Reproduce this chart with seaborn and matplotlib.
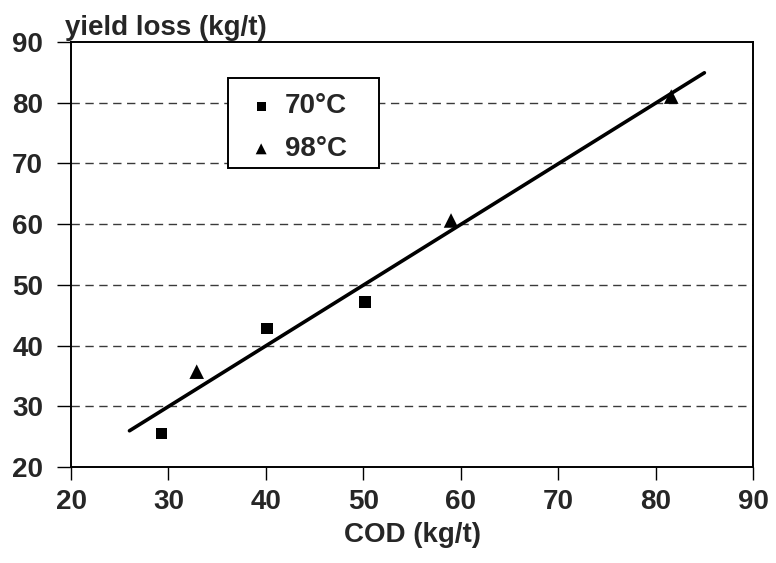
import matplotlib
matplotlib.use("Agg")
import matplotlib.pyplot as plt
from matplotlib.patches import Rectangle
import seaborn as sns
import numpy as np
import pandas as pd

# values
cod_70 = [29.3, 40.1, 50.2]
loss_70 = [25.5, 42.8, 47.2]
cod_98 = [32.9, 59.0, 81.6]
loss_98 = [35.7, 60.6, 81.0]
fit_range = [26, 85]
ticks = [20, 30, 40, 50, 60, 70, 80, 90]

df70 = pd.DataFrame({'cod': cod_70, 'loss': loss_70})
df98 = pd.DataFrame({'cod': cod_98, 'loss': loss_98})
both = pd.concat([df70, df98])

# linear trend through all points
slope, icpt = np.polyfit(both['cod'], both['loss'], 1)
fit = pd.DataFrame({'cod': fit_range})
fit['loss'] = slope * fit['cod'] + icpt

sns.set_theme(style='white')
plt.rcParams['font.family'] = ['Liberation Sans', 'DejaVu Sans']
plt.rcParams['font.weight'] = 'bold'

FS = 20

fig = plt.figure(figsize=(7.76, 5.63), dpi=100)
ax = fig.add_axes([0.0915, 0.1705, 0.879, 0.755])

for v in ticks[1:-1]:
    ax.axhline(v, color='#3a3a3a', lw=1.0, ls=(0, (6, 4)), zorder=0)

sns.lineplot(data=fit, x='cod', y='loss', color='black', lw=2.6, ax=ax, zorder=2)
sns.scatterplot(data=df70, x='cod', y='loss', marker='s', color='black', s=70,
                edgecolor='none', label='70°C', ax=ax, zorder=3)
sns.scatterplot(data=df98, x='cod', y='loss', marker='^', color='black', s=110,
                edgecolor='none', label='98°C', ax=ax, zorder=3)

ax.set_xlim(20, 90)
ax.set_ylim(20, 90)
ax.set_xticks(ticks)
ax.set_yticks(ticks)
ax.tick_params(axis='x', direction='out', length=9, width=1, color='black',
               labelsize=FS, pad=7, bottom=True)
ax.tick_params(axis='y', direction='out', length=10, width=1, color='black',
               labelsize=FS, pad=10, left=True)
for lab in ax.get_xticklabels() + ax.get_yticklabels():
    lab.set_fontweight('bold')
for sp in ax.spines.values():
    sp.set_color('black')
    sp.set_linewidth(1.4)

ax.set_xlabel('COD (kg/t)', fontsize=FS, fontweight='bold', labelpad=5)
ax.set_ylabel('')
ax.text(-0.009, 1.016, 'yield loss (kg/t)', transform=ax.transAxes, fontsize=FS,
        fontweight='bold', ha='left', va='baseline')

# legend, with its own box drawn a bit wider than the entries
box = Rectangle((0.230, 0.703), 0.221, 0.212, transform=ax.transAxes, facecolor='white',
                edgecolor='black', lw=1.4, zorder=4)
ax.add_patch(box)
leg = ax.legend(loc='upper left', bbox_to_anchor=(0.236, 0.918), frameon=False,
                fontsize=FS, handletextpad=0.4, borderpad=0.1, labelspacing=0.6,
                markerscale=0.75, handlelength=0.9)
leg.set_zorder(5)
for t in leg.get_texts():
    t.set_fontweight('bold')

fig.savefig('out.png', dpi=100)
